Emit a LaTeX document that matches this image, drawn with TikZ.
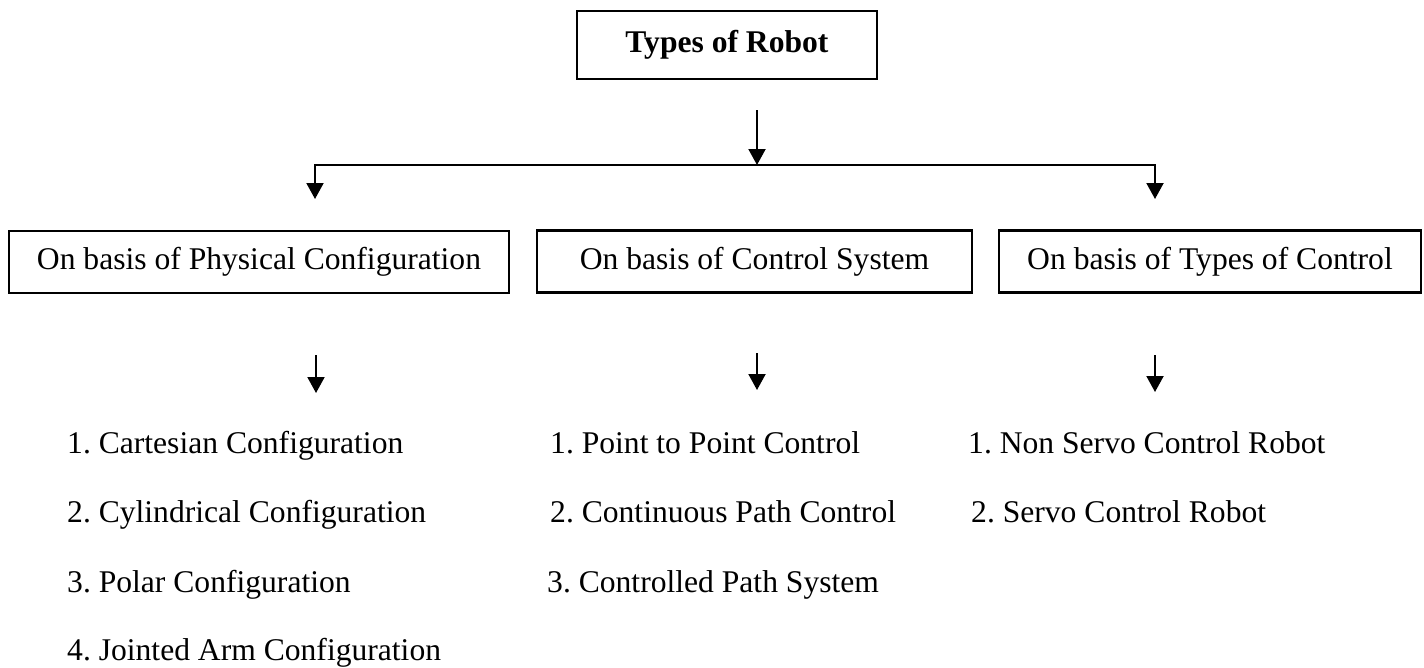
\documentclass[tikz,border=0pt]{standalone}
\usepackage{fontspec}
\setmainfont{Liberation Serif}
\usetikzlibrary{arrows.meta}
\frenchspacing

\begin{document}
\begin{tikzpicture}[x=1pt,y=-1pt,
  txt/.style={font=\fontsize{31.6}{38}\selectfont, inner sep=0pt},
  boxed/.style={draw, line width=2.6pt, inner sep=0pt, align=center,
                font=\fontsize{31.6}{38}\selectfont},
  arr/.style={line width=2pt, -{Triangle[length=16pt,width=17pt]}},
  item/.style={txt, anchor=base west}]

  % canvas
  \useasboundingbox (0,0) rectangle (1424,667);

  % root and category boxes
  \node[boxed, minimum width=300pt, minimum height=68pt,
        font=\fontsize{31.6}{38}\selectfont\bfseries] (root) at (727,45) {Types of Robot};
  \node[boxed, minimum width=500pt, minimum height=62pt] (phys) at (259,262) {On basis of Physical Configuration};
  \node[boxed, minimum width=435pt, minimum height=62pt] (ctrl) at (754.5,261.5) {On basis of Control System};
  \node[boxed, minimum width=422pt, minimum height=62pt] (kind) at (1210,261.5) {On basis of Types of Control};

  % branching connector
  \coordinate (stem) at (757,110);
  \coordinate (split) at (757,165);
  \coordinate (tipL) at (315,199);
  \coordinate (tipR) at (1155,199);
  \draw[arr] (stem) -- (split);
  \draw[arr] (split) -| (tipL);
  \draw[arr] (split) -| (tipR);

  % arrows down to the lists
  \coordinate (a1) at (316,355);  \coordinate (b1) at (316,393);
  \coordinate (a2) at (757,353);  \coordinate (b2) at (757,390);
  \coordinate (a3) at (1155,355); \coordinate (b3) at (1155,392);
  \draw[arr] (a1) -- (b1);
  \draw[arr] (a2) -- (b2);
  \draw[arr] (a3) -- (b3);

  % physical configuration list
  \node[item] (p1) at (67,453) {1. Cartesian Configuration};
  \node[item] (p2) at (67,522) {2. Cylindrical Configuration};
  \node[item] (p3) at (67,592) {3. Polar Configuration};
  \node[item] (p4) at (67,660) {4. Jointed Arm Configuration};

  % control system list
  \node[item] (c1) at (550,453) {1. Point to Point Control};
  \node[item] (c2) at (550,522) {2. Continuous Path Control};
  \node[item] (c3) at (547,592) {3. Controlled Path System};

  % types of control list
  \node[item] (k1) at (968,453) {1. Non Servo Control Robot};
  \node[item] (k2) at (971,522) {2. Servo Control Robot};
\end{tikzpicture}
\end{document}
